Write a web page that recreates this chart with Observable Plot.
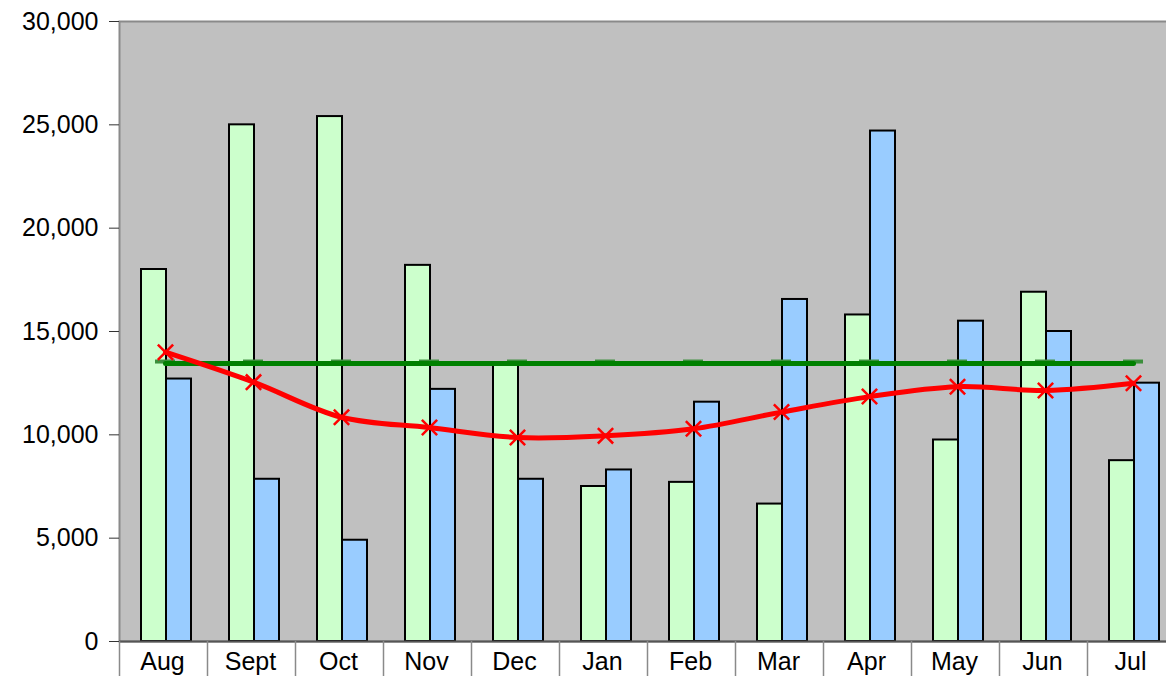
<!DOCTYPE html>
<html>
<head>
<meta charset="utf-8">
<script src="https://cdn.jsdelivr.net/npm/d3@7"></script>
<script src="https://cdn.jsdelivr.net/npm/@observablehq/plot@0.6"></script>
<style>
  html, body { margin: 0; padding: 0; background: #fff; overflow: hidden; }
  #chart { width: 1166px; height: 676px; overflow: hidden; }
</style>
</head>
<body>
<div id="chart"></div>
<script>
const months = ["Aug","Sept","Oct","Nov","Dec","Jan","Feb","Mar","Apr","May","Jun","Jul"];
const greenValues = [18000, 25000, 25400, 18200, 13500, 7500, 7700, 6650, 15800, 9750, 16900, 8750];
const blueValues  = [12700, 7850, 4900, 12200, 7850, 8300, 11580, 16550, 24700, 15500, 15000, 12500];
const redValues   = [14000, 12550, 10850, 10350, 9870, 9950, 10290, 11100, 11850, 12330, 12150, 12500];
const targetValue = 13450;
const yTicks = [0, 5000, 10000, 15000, 20000, 25000, 30000];

const greenData = months.map((m, i) => ({month: m, value: greenValues[i]}));
const blueData  = months.map((m, i) => ({month: m, value: blueValues[i]}));
const redData   = months.map((m, i) => ({month: m, value: redValues[i]}));
const targetData = months.map(m => ({month: m, value: targetValue}));

const font = "'Liberation Sans', Arial, sans-serif";

const plot = Plot.plot({
  width: 1176,
  height: 676,
  marginLeft: 119,
  marginRight: 1,
  marginTop: 21,
  marginBottom: 35,
  style: {fontFamily: font, fontSize: "25px", color: "#000", background: "#fff", maxWidth: "none", overflow: "visible"},
  x: {domain: months, padding: 0, axis: null, label: null},
  y: {domain: [0, 30000], axis: null, label: null},
  marks: [
    Plot.frame({fill: "#c0c0c0", stroke: "#8a8a8a", strokeWidth: 2}),
    Plot.barY(greenData, {x: "month", y: "value", fill: "#ccffcc", stroke: "#000", strokeWidth: 2, insetLeft: 22, insetRight: 41}),
    Plot.barY(blueData, {x: "month", y: "value", fill: "#99ccff", stroke: "#000", strokeWidth: 2, insetLeft: 47, insetRight: 16}),
    Plot.tickY(targetData, {x: "month", y: "value", stroke: "#3c8f3c", strokeWidth: 4, insetLeft: 36, insetRight: 32, dy: -2}),
    Plot.lineY(targetData, {x: "month", y: "value", stroke: "#008000", strokeWidth: 5, dx: 2}),
    Plot.lineY(redData, {x: "month", y: "value", stroke: "#ff0000", strokeWidth: 5, curve: "catmull-rom", dx: 2}),
    Plot.dot(redData, {x: "month", y: "value", symbol: "times", r: 7, stroke: "#ff0000", strokeWidth: 2.5, dx: 2}),
    Plot.ruleY([0], {stroke: "#555", strokeWidth: 2}),
    Plot.ruleX(months, {x: d => d, dx: -44, y1: 0, y2: -1800, stroke: "#8a8a8a", strokeWidth: 1.5, clip: false}),
    Plot.axisY({ticks: yTicks, tickFormat: d3.format(","), tickSize: 10, tickPadding: 11, stroke: "#333", fontSize: 25, fontFamily: font, label: null}),
    Plot.axisX({tickSize: 0, tickPadding: 11, fontSize: 25, fontFamily: font, dx: -1, label: null})
  ]
});
document.getElementById("chart").appendChild(plot);
</script>
</body>
</html>
